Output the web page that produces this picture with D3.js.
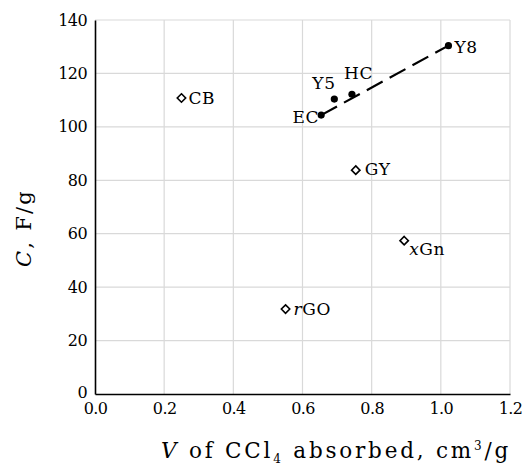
<!DOCTYPE html>
<html>
<head>
<meta charset="utf-8">
<script src="https://cdn.jsdelivr.net/npm/d3@7"></script>
<style>
  body { margin: 0; background: #fff; }
  text { font-family: "DejaVu Serif", serif; fill: #000; }
</style>
</head>
<body>
<div id="chart"></div>
<script>
// materials: pore volume (CCl4) vs capacitance
const names = ['CB', 'EC', 'Y5', 'HC', 'Y8', 'GY', 'xGn', 'rGO'];
const volume = [0.25, 0.654, 0.692, 0.743, 1.022, 0.754, 0.894, 0.551];
const capacitance = [110.8, 104.4, 110.4, 112.2, 130.4, 83.8, 57.4, 31.8];
const filled = [false, true, true, true, true, false, false, false];
const fitNames = ['EC', 'Y8'];
const xTicks = [0, 0.2, 0.4, 0.6, 0.8, 1.0, 1.2];
const yTicks = [0, 20, 40, 60, 80, 100, 120, 140];

const width = 522, height = 466;
const margin = { top: 20, right: 12, bottom: 72, left: 95 };

const svg = d3.select('#chart').append('svg')
  .attr('width', width)
  .attr('height', height);

const x = d3.scaleLinear().domain([0, 1.2]).range([margin.left, width - margin.right]);
const y = d3.scaleLinear().domain([0, 140]).range([height - margin.bottom, margin.top]);

// grid
svg.append('g')
  .selectAll('line')
  .data(xTicks.slice(1))
  .join('line')
  .attr('x1', d => x(d)).attr('x2', d => x(d))
  .attr('y1', y(0)).attr('y2', y(140))
  .attr('stroke', '#d9d9d9').attr('stroke-width', 1.2);

svg.append('g')
  .selectAll('line')
  .data(yTicks.slice(1))
  .join('line')
  .attr('x1', x(0)).attr('x2', x(1.2))
  .attr('y1', d => y(d)).attr('y2', d => y(d))
  .attr('stroke', '#d9d9d9').attr('stroke-width', 1.2);

// axes
const xAxis = svg.append('g')
  .attr('transform', `translate(0, ${y(0)})`)
  .call(d3.axisBottom(x).tickValues(xTicks).tickFormat(d3.format('.1f')).tickSize(0).tickPadding(9));
xAxis.select('.domain').attr('stroke', '#000').attr('stroke-width', 1.6);
xAxis.selectAll('text').attr('font-family', 'DejaVu Serif').attr('font-size', 16).attr('fill', '#000')
  .attr('letter-spacing', -0.6);

const yAxis = svg.append('g')
  .attr('transform', `translate(${x(0)}, 0)`)
  .call(d3.axisLeft(y).tickValues(yTicks).tickSize(0).tickPadding(8));
yAxis.select('.domain').attr('stroke', '#000').attr('stroke-width', 1.6);
yAxis.selectAll('text').attr('font-family', 'DejaVu Serif').attr('font-size', 16).attr('fill', '#000')
  .attr('letter-spacing', -0.6);
yAxis.selectAll('.tick').filter(d => d === 0).select('text').attr('dy', '0.2em');

const points = names.map((n, i) => ({ name: n, v: volume[i], c: capacitance[i], filled: filled[i] }));

// dashed trend line
const fit = points.filter(p => fitNames.includes(p.name));
svg.append('path')
  .datum(fit)
  .attr('d', d3.line().x(d => x(d.v)).y(d => y(d.c)))
  .attr('fill', 'none')
  .attr('stroke', '#000')
  .attr('stroke-width', 2.2)
  .attr('stroke-dasharray', '18,8');

// markers
svg.selectAll('.dot')
  .data(points.filter(p => p.filled))
  .join('circle')
  .attr('class', 'dot')
  .attr('cx', d => x(d.v))
  .attr('cy', d => y(d.c))
  .attr('r', 3.6)
  .attr('fill', '#000');

svg.selectAll('.dia')
  .data(points.filter(p => !p.filled))
  .join('path')
  .attr('class', 'dia')
  .attr('transform', d => `translate(${x(d.v)}, ${y(d.c)})`)
  .attr('d', 'M0,-4.2L4.2,0L0,4.2L-4.2,0Z')
  .attr('fill', '#fff')
  .attr('stroke', '#000')
  .attr('stroke-width', 1.6);

// point labels
const labelPlace = {
  CB: [7, 6, 'start'],
  EC: [-2, 8, 'end'],
  Y5: [-22, -10, 'start'],
  HC: [-8, -15, 'start'],
  Y8: [6, 7, 'start'],
  GY: [9, 5, 'start'],
  xGn: [5, 14, 'start'],
  rGO: [8, 6, 'start']
};

const labels = svg.append('g')
  .selectAll('text')
  .data(points)
  .join('text')
  .attr('x', d => x(d.v) + labelPlace[d.name][0])
  .attr('y', d => y(d.c) + labelPlace[d.name][1])
  .attr('text-anchor', d => labelPlace[d.name][2])
  .attr('font-size', 17)
  .attr('letter-spacing', 0.6);

labels.each(function(d) {
  const t = d3.select(this);
  if (d.name === 'xGn' || d.name === 'rGO') {
    t.append('tspan').attr('font-style', 'italic').text(d.name[0]);
    t.append('tspan').text(d.name.slice(1));
  } else {
    t.text(d.name);
  }
});

// stretch a title to a target span with letter spacing
function fitSpan(sel, target) {
  const n = sel.text().length;
  const len = sel.node().getComputedTextLength();
  sel.attr('letter-spacing', Math.max(0, (target - len) / n));
}

// axis titles
const xt = svg.append('text')
  .attr('x', 336)
  .attr('y', height - 8)
  .attr('text-anchor', 'middle')
  .attr('font-size', 21.5);
xt.append('tspan').attr('font-style', 'italic').text('V');
xt.append('tspan').text(' of CCl');
xt.append('tspan').attr('font-size', 12).attr('dy', 5).text('4');
xt.append('tspan').attr('dy', -5).text(' absorbed, cm');
xt.append('tspan').attr('font-size', 12).attr('dy', -8).text('3');
xt.append('tspan').attr('dy', 8).text('/g');
fitSpan(xt, 350);

const yt = svg.append('text')
  .attr('transform', `translate(31, 228) rotate(-90)`)
  .attr('text-anchor', 'middle')
  .attr('font-size', 21);
yt.append('tspan').attr('font-style', 'italic').text('C');
yt.append('tspan').text(', F/g');
fitSpan(yt, 78);
</script>
</body>
</html>
